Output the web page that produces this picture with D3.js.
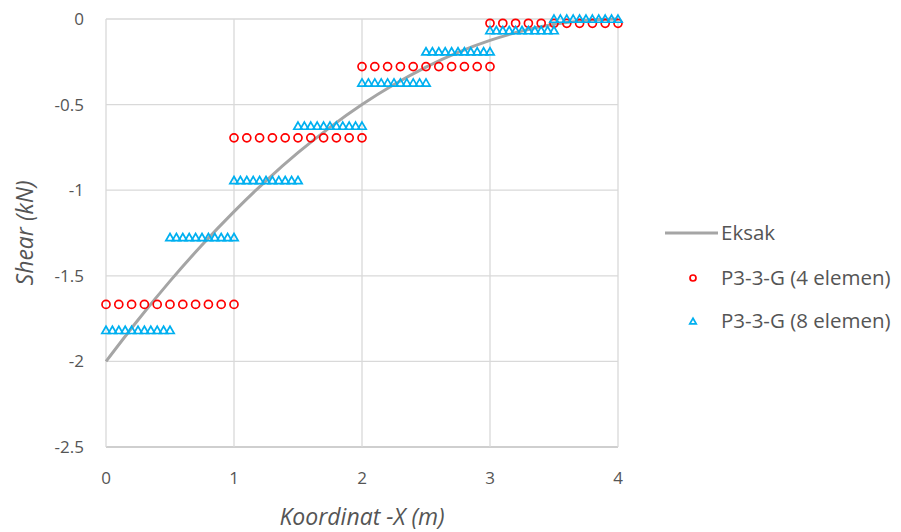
<!DOCTYPE html>
<meta charset="utf-8">
<title>Shear</title>
<script src="https://d3js.org/d3.v7.min.js"></script>
<style>
  body { margin: 0; background: #fff; }
  text { font-family: "Open Sans", "Noto Sans", sans-serif; fill: #555; }
</style>
<body>
<div id="chart"></div>
<script>
// exact solution
var eksakX = [0, 0.25, 0.5, 0.75, 1, 1.25, 1.5, 1.75, 2, 2.25, 2.5, 2.75, 3, 3.25, 3.5, 3.75, 4];
var eksakY = [-2, -1.758, -1.531, -1.32, -1.125, -0.945, -0.781, -0.633, -0.5, -0.383, -0.281, -0.195, -0.125, -0.07, -0.031, -0.008, 0];

// 4 elements, constant shear per element (11 sample points each)
var el4Start = [0, 1, 2, 3];
var el4Value = [-1.667, -0.694, -0.278, -0.025];
var el4X = [0, 0.1, 0.2, 0.3, 0.4, 0.5, 0.6, 0.7, 0.8, 0.9, 1.0];

// 8 elements
var el8Start = [0, 0.5, 1, 1.5, 2, 2.5, 3, 3.5];
var el8Value = [-1.823, -1.281, -0.948, -0.63, -0.378, -0.196, -0.072, -0.005];
var el8X = [0, 0.05, 0.1, 0.15, 0.2, 0.25, 0.3, 0.35, 0.4, 0.45, 0.5];

var xTicks = [0, 1, 2, 3, 4];
var yTicks = [0, -0.5, -1, -1.5, -2, -2.5];

var W = 901, H = 532;
var margin = {top: 19, left: 106, right: 283, bottom: 85};

var svg = d3.select("#chart").append("svg")
    .attr("width", W).attr("height", H);

var x = d3.scaleLinear().domain([0, 4]).range([margin.left, W - margin.right]);
var y = d3.scaleLinear().domain([-2.5, 0]).range([H - margin.bottom, margin.top]);

// grid
svg.append("g").selectAll("line").data(yTicks).enter().append("line")
    .attr("x1", x(0)).attr("x2", x(4))
    .attr("y1", d => y(d)).attr("y2", d => y(d))
    .attr("stroke", d => d === -2.5 ? "#BFBFBF" : "#D9D9D9").attr("stroke-width", 1.3);
svg.append("g").selectAll("line").data(xTicks).enter().append("line")
    .attr("y1", y(0)).attr("y2", y(-2.5))
    .attr("x1", d => x(d)).attr("x2", d => x(d))
    .attr("stroke", "#D9D9D9").attr("stroke-width", 1.3);

// tick labels
svg.append("g").selectAll("text").data(yTicks).enter().append("text")
    .attr("x", x(0) - 22).attr("y", d => y(d) + 6)
    .attr("text-anchor", "end").style("font-size", "17px")
    .text(d => d3.format("")(d).replace("\u2212", "-"));
svg.append("g").selectAll("text").data(xTicks).enter().append("text")
    .attr("x", d => x(d)).attr("y", y(-2.5) + 37)
    .attr("text-anchor", "middle").style("font-size", "17px")
    .text(d => d);

// axis titles
svg.append("text")
    .attr("x", (x(0) + x(4)) / 2).attr("y", 525)
    .attr("text-anchor", "middle").style("font-size", "23px").style("font-style", "italic")
    .text("Koordinat -X (m)");
svg.append("text")
    .attr("transform", "translate(33," + ((y(0) + y(-2.5)) / 2) + ") rotate(-90)")
    .attr("text-anchor", "middle").style("font-size", "23px").style("font-style", "italic")
    .text("Shear (kN)");

// exact curve
var line = d3.line().x(d => x(d[0])).y(d => y(d[1])).curve(d3.curveMonotoneX);
svg.append("path")
    .datum(eksakX.map((v, i) => [v, eksakY[i]]))
    .attr("d", line).attr("fill", "none")
    .attr("stroke", "#A5A5A5").attr("stroke-width", 3);

// markers
var pts4 = [];
el4Start.forEach((s, i) => el4X.forEach(t => pts4.push([s + t, el4Value[i]])));
var pts8 = [];
el8Start.forEach((s, i) => el8X.forEach(t => pts8.push([s + t, el8Value[i]])));

svg.append("g").selectAll("circle").data(pts4).enter().append("circle")
    .attr("cx", d => x(d[0])).attr("cy", d => y(d[1])).attr("r", 4)
    .attr("fill", "none").attr("stroke", "#FF0000").attr("stroke-width", 1.7);

var tri = d3.symbol().type(d3.symbolTriangle).size(30);
svg.append("g").selectAll("path").data(pts8).enter().append("path")
    .attr("d", tri)
    .attr("transform", d => "translate(" + x(d[0]) + "," + y(d[1]) + ")")
    .attr("fill", "none").attr("stroke", "#00B0F0").attr("stroke-width", 1.7);

// legend
var lg = svg.append("g");
lg.append("line").attr("x1", 665).attr("x2", 718).attr("y1", 233).attr("y2", 233)
    .attr("stroke", "#A5A5A5").attr("stroke-width", 3);
lg.append("text").attr("x", 721).attr("y", 240).style("font-size", "20.5px").text("Eksak");
lg.append("circle").attr("cx", 693).attr("cy", 278).attr("r", 3)
    .attr("fill", "none").attr("stroke", "#FF0000").attr("stroke-width", 1.7);
lg.append("text").attr("x", 721).attr("y", 285).style("font-size", "20.5px").text("P3-3-G (4 elemen)");
lg.append("path").attr("d", d3.symbol().type(d3.symbolTriangle).size(18))
    .attr("transform", "translate(693,322)")
    .attr("fill", "none").attr("stroke", "#00B0F0").attr("stroke-width", 1.7);
lg.append("text").attr("x", 721).attr("y", 328).style("font-size", "20.5px").text("P3-3-G (8 elemen)");
</script>
</body>
